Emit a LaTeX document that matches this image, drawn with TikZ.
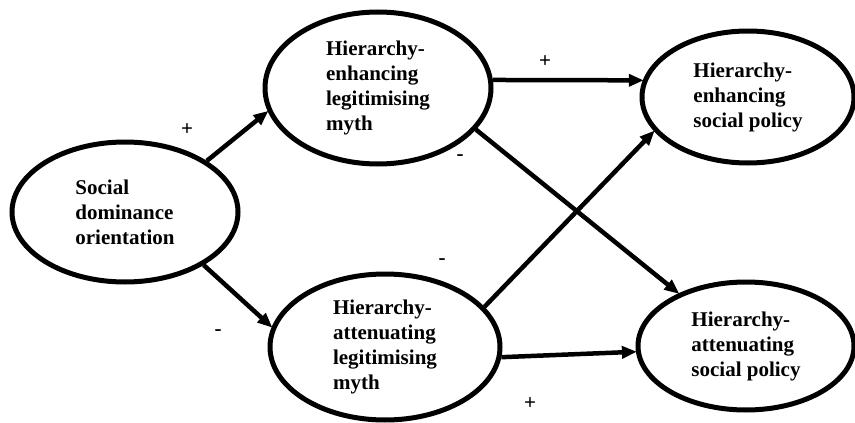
\documentclass[tikz,border=0pt]{standalone}
\usepackage{fontspec}
\setmainfont{Liberation Serif}
\usetikzlibrary{shapes.geometric,arrows.meta}
\tikzset{
  oval/.style={draw=black, line width=5pt, ellipse, inner sep=0pt, align=left,
    font=\bfseries\fontsize{21}{25}\selectfont},
  link/.style={line width=4.5pt, -{Triangle[length=15pt,width=12pt]}, shorten >=-1pt},
  sign/.style={font=\bfseries\fontsize{21}{22}\selectfont, inner sep=0pt}
}
\begin{document}
\begin{tikzpicture}[x=1pt,y=-1pt]
\useasboundingbox (0,0) rectangle (855,423);
\node[oval, minimum width=226pt, minimum height=140pt] (sdo) at (125,212) {Social\\dominance\\orientation};
\node[oval, minimum width=226pt, minimum height=152pt] (hem) at (378,88) {Hierarchy-\\enhancing\\legitimising\\myth};
\node[oval, minimum width=230pt, minimum height=146pt] (ham) at (385,347) {Hierarchy-\\attenuating\\legitimising\\myth};
\node[oval, minimum width=212pt, minimum height=132pt] (hep) at (748,97) {Hierarchy-\\enhancing\\social policy};
\node[oval, minimum width=216pt, minimum height=128pt] (hap) at (746,346) {Hierarchy-\\attenuating\\social policy};

\draw[link] (sdo.32) -- (hem.192);
\draw[link] (sdo.-34) -- (ham.170);
\draw[link] (hem.4) -- (hep.171);
\draw[link] (hem.-23) -- (hap.142);
\draw[link] (ham.22) -- (hep.200);
\draw[link] (ham.-5.5) -- (hap.183);

\node[sign] (s1) at (187,130) {+};
\node[sign] (s2) at (218,333) {-};
\node[sign] (s3) at (545,62) {+};
\node[sign] (s4) at (460,158) {-};
\node[sign] (s5) at (442,262) {-};
\node[sign] (s6) at (530,404) {+};
\end{tikzpicture}
\end{document}
